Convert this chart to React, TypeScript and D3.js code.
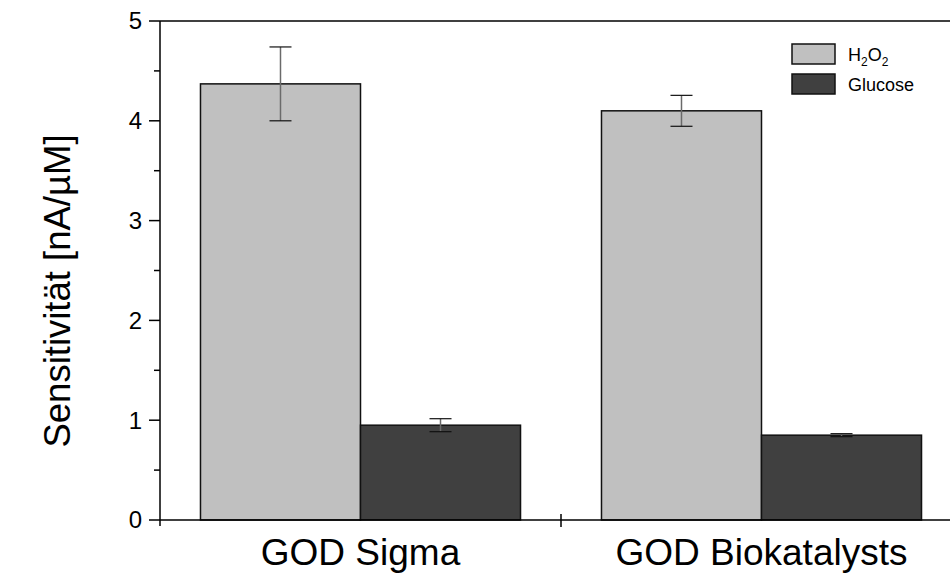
import React from "react";
import * as d3 from "d3";

const categories = ["GOD Sigma", "GOD Biokatalysts"];
const seriesNames = ["H2O2", "Glucose"];
const h2o2Values = [4.37, 4.1];
const h2o2Errors = [0.37, 0.155];
const glucoseValues = [0.95, 0.85];
const glucoseErrors = [0.065, 0.015];
const yTicks = [0, 1, 2, 3, 4, 5];
const yMinorTicks = [0.5, 1.5, 2.5, 3.5, 4.5];

const W = 950;
const H = 580;
const FONT = "'Liberation Sans', Arial, Helvetica, sans-serif";
const colors = ["#c0c0c0", "#404040"];

export default function App() {
  const left = 160;
  const right = 962;
  const top = 21;
  const bottom = 520;

  const x = d3.scaleBand<string>().domain(categories).range([left, right]).padding(0);
  const xs = d3
    .scaleBand<string>()
    .domain(seriesNames)
    .range([0, x.bandwidth()])
    .paddingOuter(0.253)
    .paddingInner(0);
  const y = d3.scaleLinear().domain([0, 5]).range([bottom, top]);

  const seriesData = [
    { name: "H2O2", values: h2o2Values, errors: h2o2Errors },
    { name: "Glucose", values: glucoseValues, errors: glucoseErrors },
  ];

  return (
    <svg
      width={W}
      height={H}
      style={{ position: "absolute", left: 0, top: 0, background: "#fff" }}
      fontFamily={FONT}
    >
      {/* bars */}
      {seriesData.map((s, si) =>
        categories.map((c, ci) => {
          const bx = (x(c) as number) + (xs(s.name) as number);
          const bw = xs.bandwidth();
          const v = s.values[ci];
          return (
            <rect
              key={s.name + c}
              x={bx}
              y={y(v)}
              width={bw}
              height={y(0) - y(v)}
              fill={colors[si]}
              stroke="#111"
              strokeWidth={1.5}
            />
          );
        })
      )}
      {/* error bars */}
      {seriesData.map((s) =>
        categories.map((c, ci) => {
          const cx = (x(c) as number) + (xs(s.name) as number) + xs.bandwidth() / 2;
          const v = s.values[ci];
          const e = s.errors[ci];
          const capW = 11;
          return (
            <g key={"e" + s.name + c}>
              <line x1={cx} x2={cx} y1={y(v + e)} y2={y(v - e)} stroke="#6a6a6a" strokeWidth={1.5} />
              <line x1={cx - capW} x2={cx + capW} y1={y(v + e)} y2={y(v + e)} stroke="#111" strokeWidth={1.2} />
              <line x1={cx - capW} x2={cx + capW} y1={y(v - e)} y2={y(v - e)} stroke="#111" strokeWidth={1.2} />
            </g>
          );
        })
      )}
      {/* frame / axes */}
      <line x1={left} x2={W} y1={top} y2={top} stroke="#000" strokeWidth={1.5} />
      <line x1={left} x2={W} y1={bottom} y2={bottom} stroke="#000" strokeWidth={1.5} />
      <line x1={left} x2={left} y1={top} y2={bottom + 6} stroke="#000" strokeWidth={1.5} />
      {/* y ticks */}
      {yTicks.map((t) => (
        <g key={"yt" + t}>
          <line x1={left - 11} x2={left} y1={y(t)} y2={y(t)} stroke="#000" strokeWidth={1.5} />
          <text
            x={left - 18}
            y={y(t)}
            dy="0.35em"
            textAnchor="end"
            fontSize={24}
            fill="#000"
          >
            {t}
          </text>
        </g>
      ))}
      {yMinorTicks.map((t) => (
        <line key={"ym" + t} x1={left - 6} x2={left} y1={y(t)} y2={y(t)} stroke="#000" strokeWidth={1.5} />
      ))}
      {/* x category separator tick */}
      <line
        x1={x(categories[1]) as number}
        x2={x(categories[1]) as number}
        y1={bottom - 6}
        y2={bottom + 7}
        stroke="#000"
        strokeWidth={1.5}
      />
      {/* category labels */}
      {categories.map((c) => (
        <text
          key={"cl" + c}
          x={(x(c) as number) + x.bandwidth() / 2}
          y={565}
          textAnchor="middle"
          fontSize={37}
          fill="#000"
        >
          {c}
        </text>
      ))}
      {/* y title */}
      <text
        transform={`translate(70, 291) rotate(-90)`}
        textAnchor="middle"
        fontSize={36.5}
        fill="#000"
      >
        Sensitivität [nA/µM]
      </text>
      {/* legend */}
      <g>
        <rect x={792} y={44} width={43} height={20} fill={colors[0]} stroke="#111" strokeWidth={1.5} />
        <text x={848} y={61} fontSize={18} fill="#000">
          H
          <tspan fontSize={12} dy={5}>2</tspan>
          <tspan dy={-5}>O</tspan>
          <tspan fontSize={12} dy={5}>2</tspan>
        </text>
        <rect x={792} y={74} width={43} height={20} fill={colors[1]} stroke="#111" strokeWidth={1.5} />
        <text x={848} y={91} fontSize={18} fill="#000">
          Glucose
        </text>
      </g>
    </svg>
  );
}
